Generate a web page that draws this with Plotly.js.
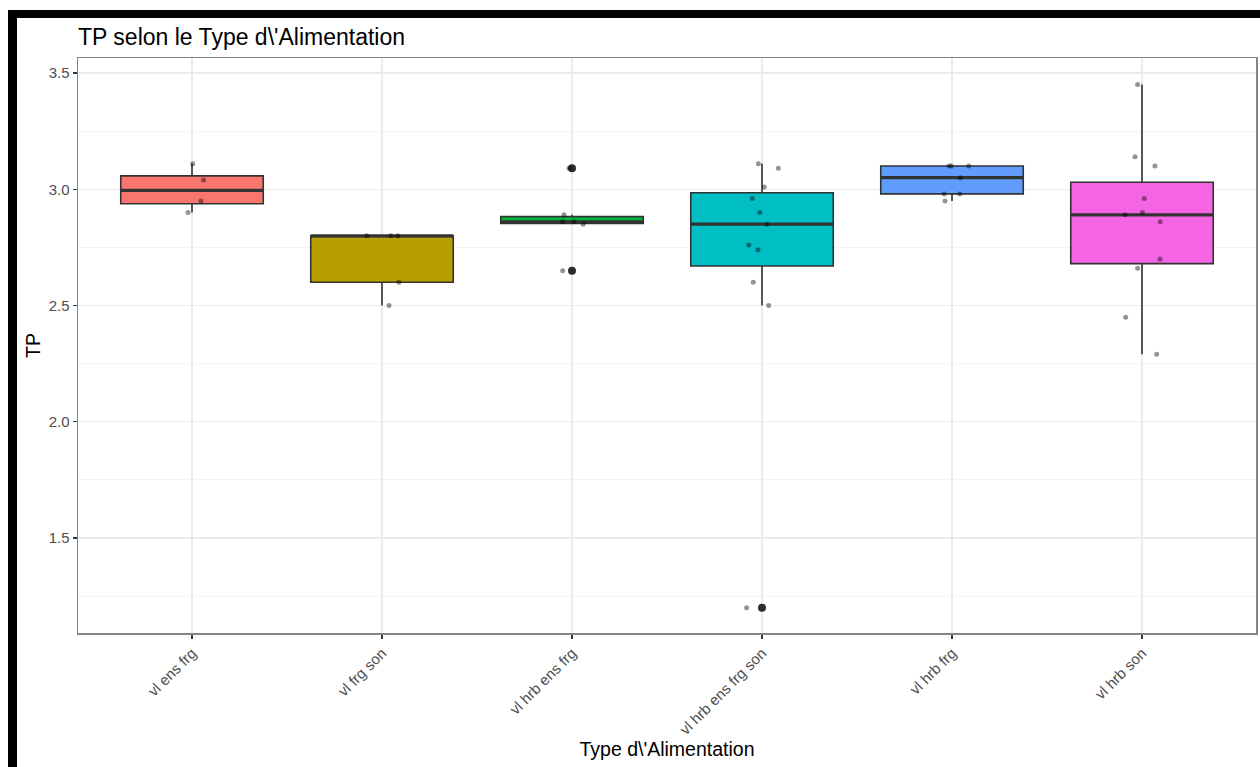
<!DOCTYPE html>
<html>
<head>
<meta charset="utf-8">
<script src="https://cdn.plot.ly/plotly-3.0.1.min.js"></script>
<style>
  html, body { margin: 0; padding: 0; background: #ffffff; }
  #chart { position: absolute; left: 0; top: 0; width: 1260px; height: 767px; }
  .frame-top { position: absolute; left: 8px; top: 10px; width: 1252px; height: 8px; background: #000; }
  .frame-left { position: absolute; left: 8px; top: 10px; width: 9px; height: 757px; background: #000; }
</style>
</head>
<body>
<div id="chart"></div>
<div class="frame-top"></div>
<div class="frame-left"></div>
<script>
// Categories (Type d'Alimentation)
const categories = ["vl ens frg", "vl frg son", "vl hrb ens frg", "vl hrb ens frg son", "vl hrb frg", "vl hrb son"];
const colors = ["#F8766D", "#B79F00", "#00BA38", "#00BFC4", "#619CFF", "#F564E3"];

// TP values per category
const tp_vl_ens_frg         = [3.11, 3.04, 2.95, 2.90];
const tp_vl_frg_son         = [2.80, 2.80, 2.80, 2.60, 2.50];
const tp_vl_hrb_ens_frg     = [3.09, 2.89, 2.86, 2.86, 2.85, 2.65];
const tp_vl_hrb_ens_frg_son = [3.11, 3.09, 3.01, 2.96, 2.90, 2.85, 2.76, 2.74, 2.60, 2.50, 1.20];
const tp_vl_hrb_frg         = [3.10, 3.10, 3.10, 3.05, 2.98, 2.98, 2.95];
const tp_vl_hrb_son         = [3.45, 3.14, 3.10, 2.96, 2.89, 2.90, 2.86, 2.70, 2.66, 2.45, 2.29];

// Horizontal jitter offsets of the points (category units)
const jit_vl_ens_frg         = [0.004, 0.061, 0.047, -0.021];
const jit_vl_frg_son         = [-0.080, 0.047, 0.083, 0.089, 0.037];
const jit_vl_hrb_ens_frg     = [-0.016, -0.042, -0.049, 0.009, 0.059, -0.049];
const jit_vl_hrb_ens_frg_son = [-0.019, 0.086, 0.012, -0.051, -0.012, 0.025, -0.070, -0.021, -0.046, 0.035, -0.081];
const jit_vl_hrb_frg         = [-0.016, -0.004, 0.088, 0.044, -0.041, 0.041, -0.037];
const jit_vl_hrb_son         = [-0.023, -0.037, 0.068, 0.012, -0.089, 0.002, 0.096, 0.095, -0.023, -0.086, 0.077];

const yTicks = [1.5, 2.0, 2.5, 3.0, 3.5];

const groups = [tp_vl_ens_frg, tp_vl_frg_son, tp_vl_hrb_ens_frg, tp_vl_hrb_ens_frg_son, tp_vl_hrb_frg, tp_vl_hrb_son];
const jitters = [jit_vl_ens_frg, jit_vl_frg_son, jit_vl_hrb_ens_frg, jit_vl_hrb_ens_frg_son, jit_vl_hrb_frg, jit_vl_hrb_son];

// R type-7 quantile (as ggplot2 uses)
function q7(arr, p) {
  const s = arr.slice().sort((a, b) => a - b);
  const h = (s.length - 1) * p;
  const lo = Math.floor(h), hi = Math.ceil(h);
  return s[lo] + (h - lo) * (s[hi] - s[lo]);
}

const traces = [];
const BOXW = 0.75;
const medX = [], medY = [];
const outX = [], outY = [];

groups.forEach((vals, i) => {
  const q1 = q7(vals, 0.25), med = q7(vals, 0.5), q3 = q7(vals, 0.75);
  const iqr = q3 - q1;
  const lf = q1 - 1.5 * iqr, uf = q3 + 1.5 * iqr;
  const inside = vals.filter(v => v >= lf - 1e-9 && v <= uf + 1e-9);
  const lo = Math.min(...inside), hi = Math.max(...inside);
  vals.forEach(v => { if (v < lf - 1e-9 || v > uf + 1e-9) { outX.push(i); outY.push(v); } });
  traces.push({
    type: 'box', x: [i], q1: [q1], median: [med], q3: [q3],
    lowerfence: [lo], upperfence: [hi],
    width: BOXW, whiskerwidth: 0, boxpoints: false,
    fillcolor: colors[i], line: { color: '#333333', width: 1.6 },
    name: categories[i], showlegend: false, hoverinfo: 'skip'
  });
  medX.push(i - BOXW / 2, i + BOXW / 2, null);
  medY.push(med, med, null);
});

traces.push({
  type: 'scatter', mode: 'lines', x: medX, y: medY,
  line: { color: '#333333', width: 3.2 }, showlegend: false, hoverinfo: 'skip'
});

traces.push({
  type: 'scatter', mode: 'markers', x: outX, y: outY,
  marker: { color: '#2b2b2b', size: 8 }, showlegend: false, hoverinfo: 'skip'
});

const jx = [], jy = [];
groups.forEach((vals, i) => vals.forEach((v, k) => { jx.push(i + jitters[i][k]); jy.push(v); }));
traces.push({
  type: 'scatter', mode: 'markers', x: jx, y: jy,
  marker: { color: 'rgba(0,0,0,0.42)', size: 5 }, showlegend: false, hoverinfo: 'skip'
});

const layout = {
  width: 1260, height: 767,
  margin: { l: 78, r: 4, t: 58, b: 134 },
  paper_bgcolor: 'rgba(0,0,0,0)', plot_bgcolor: '#ffffff',
  font: { family: 'Liberation Sans, Arial, sans-serif', color: '#4D4D4D' },
  title: {
    text: "TP selon le Type d\\'Alimentation",
    x: 0, xref: 'paper', xanchor: 'left',
    y: 1, yref: 'paper', yanchor: 'bottom', pad: { b: 13, l: 0 },
    font: { size: 23, color: '#000000', family: 'Liberation Sans, Arial, sans-serif' }
  },
  xaxis: {
    range: [-0.6, 5.6], tickmode: 'array', tickvals: [0, 1, 2, 3, 4, 5], ticktext: categories,
    tickangle: -45, tickfont: { size: 15, color: '#4D4D4D' },
    showgrid: true, gridcolor: '#EBEBEB', gridwidth: 1.2, zeroline: false,
    showline: true, mirror: true, linecolor: '#858585', linewidth: 1.5,
    ticks: 'outside', ticklen: 4, tickcolor: '#333333', tickwidth: 1.2,
    title: { text: "Type d\\'Alimentation", font: { size: 19.5, color: '#000000' }, standoff: 5 },
    automargin: false
  },
  yaxis: {
    range: [1.0916, 3.5645], tickmode: 'array', tickvals: yTicks, ticktext: yTicks.map(v => v.toFixed(1)),
    tickfont: { size: 15, color: '#4D4D4D' },
    showgrid: true, gridcolor: '#EBEBEB', gridwidth: 1.2, zeroline: false,
    minor: { tickmode: 'array', tickvals: [1.25, 1.75, 2.25, 2.75, 3.25], showgrid: true, gridcolor: '#F3F3F3', gridwidth: 1, ticks: '' },
    showline: true, mirror: true, linecolor: '#858585', linewidth: 1.5,
    ticks: 'outside', ticklen: 4, tickcolor: '#333333', tickwidth: 1.2,
    title: { text: 'TP', font: { size: 19.5, color: '#000000' }, standoff: 3 },
    automargin: false
  },
  hovermode: false
};

Plotly.newPlot('chart', traces, layout, { staticPlot: true, displayModeBar: false });
</script>
</body>
</html>
